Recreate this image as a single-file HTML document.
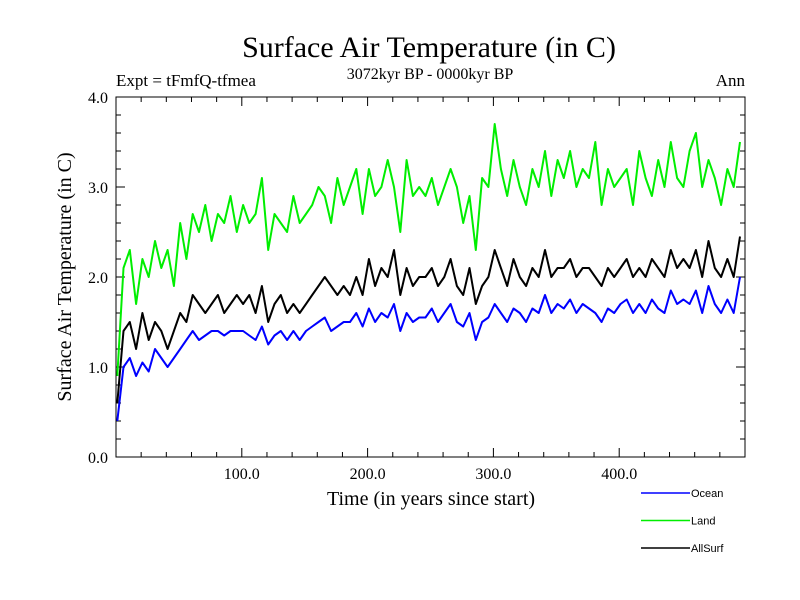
<!DOCTYPE html>
<html><head><meta charset="utf-8"><style>
body{margin:0;background:#fff;}
svg{display:block;font-family:"Liberation Serif",serif;}
</style></head><body>
<svg id="chart" width="800" height="600" viewBox="0 0 800 600">
<text x="429" y="57" text-anchor="middle" font-size="30">Surface Air Temperature (in C)</text>
<text x="430" y="79" text-anchor="middle" font-size="16">3072kyr BP - 0000kyr BP</text>
<text x="116" y="86" font-size="17">Expt = tFmfQ-tfmea</text>
<text x="745" y="86" text-anchor="end" font-size="17">Ann</text>
<text transform="translate(71,277) rotate(-90)" text-anchor="middle" font-size="20">Surface Air Temperature (in C)</text>
<text x="431" y="505" text-anchor="middle" font-size="20">Time (in years since start)</text>
<g id="axes"></g>
<g id="series"></g>
<rect x="116" y="97" width="629" height="360" fill="none" stroke="#000" stroke-width="1"/>
<g id="legend" font-family="Liberation Sans, sans-serif" font-size="11"></g>
</svg>
<script>
const years=[];for(let i=0;i<100;i++)years.push(1+i*5);
const landValues=[0.9,2.1,2.3,1.7,2.2,2.0,2.4,2.1,2.3,1.9,
2.6,2.2,2.7,2.5,2.8,2.4,2.7,2.6,2.9,2.5,
2.8,2.6,2.7,3.1,2.3,2.7,2.6,2.5,2.9,2.6,
2.7,2.8,3.0,2.9,2.6,3.1,2.8,3.0,3.2,2.7,
3.2,2.9,3.0,3.3,3.0,2.5,3.3,2.9,3.0,2.9,
3.1,2.8,3.0,3.2,3.0,2.6,2.9,2.3,3.1,3.0,
3.7,3.2,2.9,3.3,3.0,2.8,3.2,3.0,3.4,2.9,
3.3,3.1,3.4,3.0,3.2,3.1,3.5,2.8,3.2,3.0,
3.1,3.2,2.8,3.4,3.1,2.9,3.3,3.0,3.5,3.1,
3.0,3.4,3.6,3.0,3.3,3.1,2.8,3.2,3.0,3.5];
const allSurfValues=[0.6,1.4,1.5,1.2,1.6,1.3,1.5,1.4,1.2,1.4,
1.6,1.5,1.8,1.7,1.6,1.7,1.8,1.6,1.7,1.8,
1.7,1.8,1.6,1.9,1.5,1.7,1.8,1.6,1.7,1.6,
1.7,1.8,1.9,2.0,1.9,1.8,1.9,1.8,2.0,1.8,
2.2,1.9,2.1,2.0,2.3,1.8,2.1,1.9,2.0,2.0,
2.1,1.9,2.0,2.2,1.9,1.8,2.1,1.7,1.9,2.0,
2.3,2.1,1.9,2.2,2.0,1.9,2.1,2.0,2.3,2.0,
2.1,2.1,2.2,2.0,2.1,2.1,2.0,1.9,2.1,2.0,
2.1,2.2,2.0,2.1,2.0,2.2,2.1,2.0,2.3,2.1,
2.2,2.1,2.3,2.0,2.4,2.1,2.0,2.2,2.0,2.45];
const oceanValues=[0.4,1.0,1.1,0.9,1.05,0.95,1.2,1.1,1.0,1.1,
1.2,1.3,1.4,1.3,1.35,1.4,1.4,1.35,1.4,1.4,
1.4,1.35,1.3,1.45,1.25,1.35,1.4,1.3,1.4,1.3,
1.4,1.45,1.5,1.55,1.4,1.45,1.5,1.5,1.6,1.45,
1.65,1.5,1.6,1.55,1.7,1.4,1.6,1.5,1.55,1.55,
1.65,1.5,1.6,1.7,1.5,1.45,1.6,1.3,1.5,1.55,
1.7,1.6,1.5,1.65,1.6,1.5,1.65,1.6,1.8,1.6,
1.7,1.65,1.75,1.6,1.7,1.65,1.6,1.5,1.65,1.6,
1.7,1.75,1.6,1.7,1.6,1.75,1.65,1.6,1.85,1.7,
1.75,1.7,1.85,1.6,1.9,1.7,1.6,1.75,1.6,2.0];
const xTickValues=[100,200,300,400];
const xTickLabels=["100.0","200.0","300.0","400.0"];
const yTickValues=[0,1,2,3,4];
const yTickLabels=["0.0","1.0","2.0","3.0","4.0"];
const seriesNames=["Ocean","Land","AllSurf"];
const NS="http://www.w3.org/2000/svg";
const X0=116,X1=745,Y0=457,Y1=97;
function xs(v){return X0+(v-0)/(500-0)*(X1-X0);}
function ys(v){return Y0-(v-0)/(4-0)*(Y0-Y1);}
function mk(tag,attrs,parent){const e=document.createElementNS(NS,tag);for(const k in attrs)e.setAttribute(k,attrs[k]);parent.appendChild(e);return e;}
const axes=document.getElementById('axes');
for(let v=20;v<500;v+=20){
 const x=xs(v);const major=v%100===0;const L=major?9:5;
 const t=mk('path',{d:`M${x},${Y0}v${-L}M${x},${Y1}v${L}`,stroke:'#000','stroke-width':1},axes);
 
 
}
for(let v=0.2;v<4;v+=0.2){
 const y=ys(v);const major=Math.abs(v-Math.round(v))<1e-6;const L=major?9:5;
 const t=mk('path',{d:`M${X0},${y}h${L}M${X1},${y}h${-L}`,stroke:'#000','stroke-width':1},axes);
 
 
}
xTickValues.forEach((v,i)=>{
 const t=mk('text',{x:xs(v),y:Y0+22,'text-anchor':'middle','font-size':16},axes);t.textContent=xTickLabels[i];
 
 
});
yTickValues.forEach((v,i)=>{
 const t=mk('text',{x:X0-8,y:ys(v)+6,'text-anchor':'end','font-size':16},axes);t.textContent=yTickLabels[i];
 
 
});
const sg=document.getElementById('series');
function line(vals,color,name){
 const d=vals.map((v,i)=>(i?'L':'M')+xs(years[i]).toFixed(1)+','+ys(v).toFixed(1)).join('');
 const p=mk('path',{d:d,fill:'none',stroke:color,'stroke-width':2,'stroke-linejoin':'round'},sg);
 
 
}
line(landValues,'#00ee00','land-line');
line(allSurfValues,'#000000','allsurf-line');
line(oceanValues,'#0000ff','ocean-line');
const lg=document.getElementById('legend');
const lcolors=['#0000ff','#00ee00','#000000'];
seriesNames.forEach((n,i)=>{
 const y=493+i*27.5;
 const g=mk('g',{},lg);
 
 
 mk('line',{x1:641,x2:690,y1:y,y2:y,stroke:lcolors[i],'stroke-width':1.5},g);
 const t=mk('text',{x:691,y:y+4},g);t.textContent=n;
});
</script>
</body></html>
